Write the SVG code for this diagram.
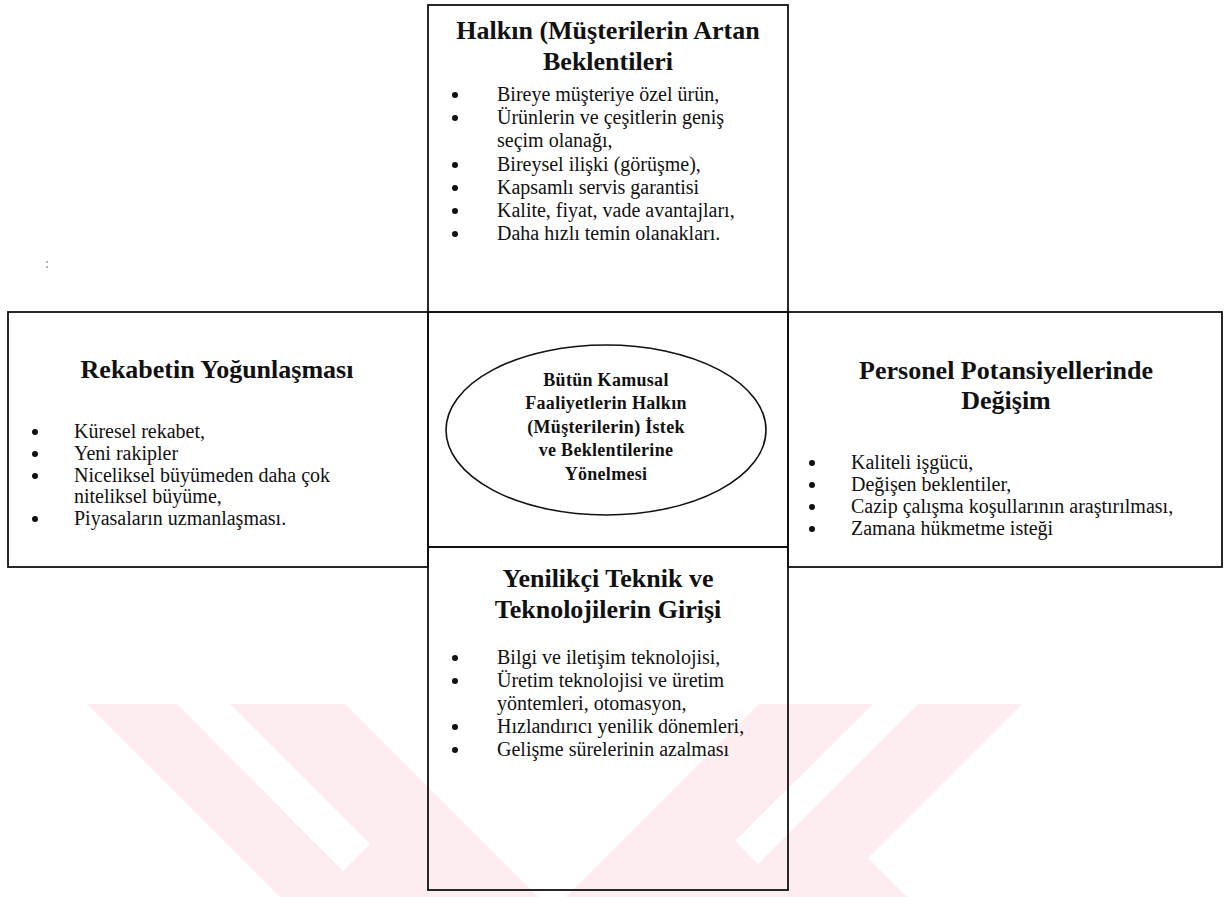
<svg xmlns="http://www.w3.org/2000/svg" width="1231" height="897" viewBox="0 0 1231 897">
<style>
.box{fill:none;stroke:#111;stroke-width:1.8}
.ell{fill:none;stroke:#111;stroke-width:1.6}
.title{font-family:"Liberation Serif","Times New Roman",serif;font-weight:bold;font-size:26px;fill:#111;text-anchor:middle}
.ctext{font-family:"Liberation Serif","Times New Roman",serif;font-weight:bold;font-size:18px;fill:#111;text-anchor:middle;letter-spacing:0.3px}
.item{font-family:"Liberation Serif","Times New Roman",serif;font-size:20px;fill:#111}
.dot{fill:#111}
.wm{fill:#fdedf0}
</style>
<rect width="1231" height="897" fill="#fff"/>
<g id="watermark">
<polygon class="wm" points="87,704 345,704 538,897 280,897"/>
<polygon points="177,704 230,704 370,844 343,871" fill="#fff"/>
<polygon class="wm" points="759,704 1022,704 868,858 907,897 566,897"/>
<polygon points="873,704 918,704 758,864 735,841" fill="#fff"/>
</g>
<circle cx="47" cy="262" r="0.8" fill="#555"/>
<circle cx="47" cy="267" r="0.8" fill="#555"/>
<g id="connectors"></g>
<g id="top-box">
<rect class="box" x="428" y="5" width="360" height="307"/>
<text class="title" x="608" y="39">Halkın (Müşterilerin Artan</text>
<text class="title" x="608" y="70">Beklentileri</text>
<circle class="dot" cx="455" cy="95" r="3"/><text class="item" x="497" y="101">Bireye müşteriye özel ürün,</text>
<circle class="dot" cx="455" cy="118" r="3"/><text class="item" x="497" y="124">Ürünlerin ve çeşitlerin geniş</text>
<text class="item" x="497" y="147">seçim olanağı,</text>
<circle class="dot" cx="455" cy="165" r="3"/><text class="item" x="497" y="171">Bireysel ilişki (görüşme),</text>
<circle class="dot" cx="455" cy="188" r="3"/><text class="item" x="497" y="194">Kapsamlı servis garantisi</text>
<circle class="dot" cx="455" cy="211" r="3"/><text class="item" x="497" y="217">Kalite, fiyat, vade avantajları,</text>
<circle class="dot" cx="455" cy="234" r="3"/><text class="item" x="497" y="240">Daha hızlı temin olanakları.</text>
</g>
<g id="left-box">
<rect class="box" x="8" y="312" width="420" height="255"/>
<text class="title" x="217" y="378">Rekabetin Yoğunlaşması</text>
<circle class="dot" cx="35" cy="432" r="3"/><text class="item" x="74" y="438">Küresel rekabet,</text>
<circle class="dot" cx="35" cy="454" r="3"/><text class="item" x="74" y="460">Yeni rakipler</text>
<circle class="dot" cx="35" cy="476" r="3"/><text class="item" x="74" y="482">Niceliksel büyümeden daha çok</text>
<text class="item" x="74" y="503">niteliksel büyüme,</text>
<circle class="dot" cx="35" cy="519" r="3"/><text class="item" x="74" y="525">Piyasaların uzmanlaşması.</text>
</g>
<g id="right-box">
<rect class="box" x="788" y="312" width="434" height="255"/>
<text class="title" x="1006" y="379">Personel Potansiyellerinde</text>
<text class="title" x="1006" y="409">Değişim</text>
<circle class="dot" cx="812" cy="463" r="3"/><text class="item" x="851" y="469">Kaliteli işgücü,</text>
<circle class="dot" cx="812" cy="485" r="3"/><text class="item" x="851" y="491">Değişen beklentiler,</text>
<circle class="dot" cx="812" cy="507" r="3"/><text class="item" x="851" y="513">Cazip çalışma koşullarının araştırılması,</text>
<circle class="dot" cx="812" cy="529" r="3"/><text class="item" x="851" y="535">Zamana hükmetme isteği</text>
</g>
<g id="center-node">
<rect class="box" x="428" y="312" width="360" height="235"/>
<ellipse class="ell" cx="606" cy="430" rx="160" ry="85"/>
<text class="ctext" x="606" y="386">Bütün Kamusal</text>
<text class="ctext" x="606" y="409">Faaliyetlerin Halkın</text>
<text class="ctext" x="606" y="433">(Müşterilerin) İstek</text>
<text class="ctext" x="606" y="456">ve Beklentilerine</text>
<text class="ctext" x="606" y="480">Yönelmesi</text>
</g>
<g id="bottom-box">
<rect class="box" x="428" y="547" width="360" height="343"/>
<text class="title" x="608" y="587">Yenilikçi Teknik ve</text>
<text class="title" x="608" y="618">Teknolojilerin Girişi</text>
<circle class="dot" cx="455" cy="658" r="3"/><text class="item" x="497" y="664">Bilgi ve iletişim teknolojisi,</text>
<circle class="dot" cx="455" cy="681" r="3"/><text class="item" x="497" y="687">Üretim teknolojisi ve üretim</text>
<text class="item" x="497" y="710">yöntemleri, otomasyon,</text>
<circle class="dot" cx="455" cy="727" r="3"/><text class="item" x="497" y="733">Hızlandırıcı yenilik dönemleri,</text>
<circle class="dot" cx="455" cy="750" r="3"/><text class="item" x="497" y="756">Gelişme sürelerinin azalması</text>
</g>
</svg>
